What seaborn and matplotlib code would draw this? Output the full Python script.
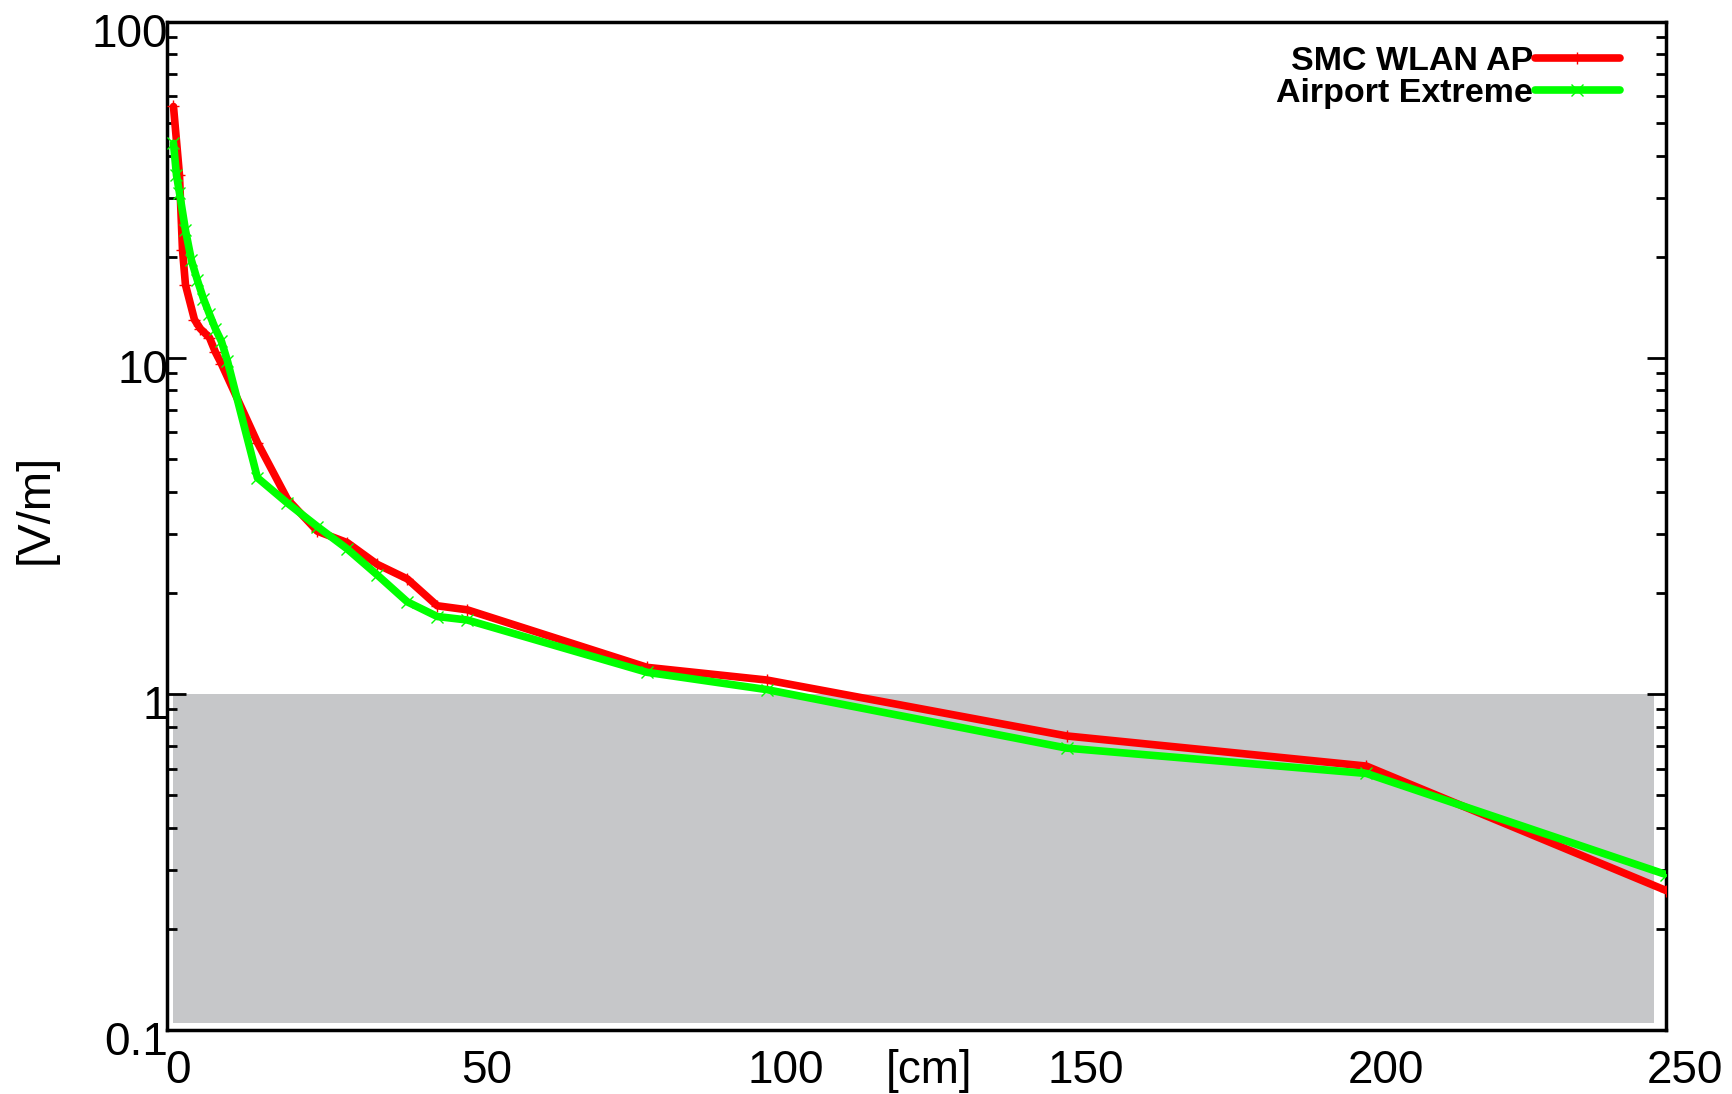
import numpy as np
import pandas as pd
import seaborn as sns
import matplotlib
matplotlib.use('Agg')
import matplotlib.pyplot as plt
import matplotlib.transforms as mtransforms
from matplotlib.ticker import LogLocator, NullFormatter, FixedLocator

# distance [cm] and field strength [V/m]
smc_x = [1, 2, 2.5, 3, 4.5, 5.5, 7, 8, 9, 15, 20, 25, 30, 35, 40, 45, 50, 80, 100, 150, 200, 250]
smc_y = [56, 35, 21, 16.5, 13, 12.2, 11.5, 10.4, 9.6, 5.6, 3.8, 3.05, 2.82, 2.43, 2.2, 1.83, 1.78,
         1.2, 1.1, 0.75, 0.61, 0.26]

apx_x = [1, 1.5, 2, 3, 4, 5, 6, 7, 8, 9, 10, 15, 20, 25, 30, 35, 40, 45, 50, 80, 100, 150, 200, 250]
apx_y = [43.5, 35, 31, 24, 19.5, 17, 15, 13.5, 12.2, 11.2, 9.8, 4.4, 3.7, 3.15, 2.7, 2.26, 1.88, 1.7,
         1.66, 1.16, 1.03, 0.69, 0.58, 0.29]

x_ticks = [0, 50, 100, 150, 200, 250]
y_ticks = [0.1, 1, 10, 100]
y_labels = ['0.1', '1', '10', '100']

sns.set_style('white')
plt.rcParams['font.family'] = ['Liberation Sans', 'DejaVu Sans']
plt.rcParams['text.color'] = 'black'
plt.rcParams['xtick.color'] = 'black'
plt.rcParams['ytick.color'] = 'black'
plt.rcParams['axes.labelcolor'] = 'black'

fig = plt.figure(figsize=(17.32, 10.94), dpi=100)
ax = fig.add_axes([0.0967, 0.0585, 0.8653, 0.9215])

# grey band below 1 V/m
ax.fill_between([1, 248], 0.105, 1, color='#c6c7c9', lw=0, zorder=0)

sns.lineplot(x=smc_x, y=smc_y, ax=ax, color='#ff0000', lw=5.5, marker='+', markersize=9,
             markeredgewidth=1, markeredgecolor='#ff0000', label='SMC WLAN AP', zorder=3)
sns.lineplot(x=apx_x, y=apx_y, ax=ax, color='#00ff00', lw=5.5, marker='x', markersize=8,
             markeredgewidth=1, markeredgecolor='#00ff00', label='Airport Extreme', zorder=4)

ax.set_yscale('log')
ax.set_xlim(0, 250)
ax.set_ylim(0.1, 100)

ax.xaxis.set_major_locator(FixedLocator(x_ticks))
ax.set_xticklabels([str(t) for t in x_ticks], fontsize=33)
ax.yaxis.set_major_locator(FixedLocator(y_ticks))
ax.set_yticklabels(y_labels, fontsize=33)
ax.yaxis.set_minor_locator(LogLocator(base=10, subs=np.arange(2, 10)))
ax.yaxis.set_minor_formatter(NullFormatter())

ax.tick_params(axis='x', which='both', length=0, pad=14)
ax.tick_params(axis='y', which='major', direction='in', length=14, width=2,
               left=True, right=True, pad=1)
ax.tick_params(axis='y', which='minor', direction='in', length=7, width=2,
               left=True, right=True)

# gnuplot-like label placement: x labels sit a bit right, y labels a bit low
for i, lab in enumerate(ax.get_xticklabels()):
    dx = 11 if i == 0 else 19
    lab.set_transform(lab.get_transform() + mtransforms.ScaledTranslation(dx / 100, 0, fig.dpi_scale_trans))
for lab in ax.get_yticklabels():
    lab.set_transform(lab.get_transform() + mtransforms.ScaledTranslation(0.02, -8 / 100, fig.dpi_scale_trans))

for s in ax.spines.values():
    s.set_linewidth(2.5)
    s.set_color('black')

ax.set_xlabel('')
ax.set_ylabel('[V/m]', fontsize=34)
ax.yaxis.set_label_coords(-0.073, 0.517)
ax.annotate('[cm]', xy=(127, 0), xycoords=('data', 'axes fraction'),
            xytext=(0, -14), textcoords='offset points', ha='center', va='top', fontsize=33)

leg = ax.legend(loc='upper right', frameon=False, markerfirst=False,
                prop={'weight': 'bold', 'size': 24.5}, handlelength=2.5,
                handletextpad=0.05, borderaxespad=0.3, labelspacing=0.05,
                bbox_to_anchor=(0.985, 1.0))
for h in leg.get_lines():
    h.set_linewidth(5.5)

fig.savefig('out.png', dpi=100)
